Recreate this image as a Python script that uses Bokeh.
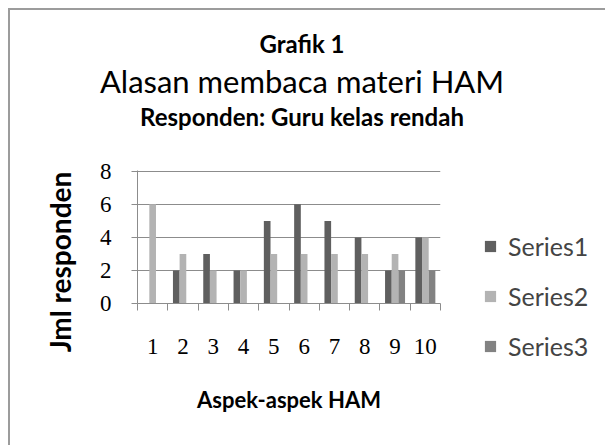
from bokeh.plotting import figure
from bokeh.layouts import column, row
from bokeh.models import (Range1d, LinearAxis, FixedTicker, Legend, LegendItem,
                          ColumnDataSource, Div)
from bokeh.transform import dodge
from bokeh.embed import file_html
from bokeh.resources import INLINE

# ---- data ----
categories = ["1", "2", "3", "4", "5", "6", "7", "8", "9", "10"]
series1 = [0, 2, 3, 2, 5, 6, 5, 4, 2, 4]
series2 = [6, 3, 2, 2, 3, 3, 3, 3, 3, 4]
series3 = [0, 0, 0, 0, 0, 0, 0, 0, 2, 2]
series_names = ["Series1", "Series2", "Series3"]
y_ticks = [0, 2, 4, 6, 8]
title_lines = ["Grafik 1", "Alasan membaca materi HAM", "Responden: Guru kelas rendah"]
x_title = "Aspek-aspek HAM"
y_title = "Jml responden"

colors = ["#5f5f5f", "#b3b3b3", "#828282"]
SANS = "Lato"
SERIF = "Liberation Serif"

# ---- layout (page px) ----
X0, Y0 = 10, 10            # content origin on the page (8 margin + 2 border)
DIV_H = 150
YW = 70                    # width of the y-title column
FL, FR, FT, FB = 137, 440, 170, 302
FW, FH = FR - FL, FB - FT + 1

n = len(categories)
pos = list(range(1, n + 1))

# ---- title block ----
title_specs = [(title_lines[0], 45, 24, "bold"),
               (title_lines[1], 82, 31, "normal"),
               (title_lines[2], 118, 24, "bold")]
inner = ""
for text, cy, size, weight in title_specs:
    top = cy - Y0 - size / 2 - 1
    inner += (f'<div style="position:absolute;left:0;width:{2 * (302 - X0)}px;top:{top}px;'
              f'height:{size}px;line-height:{size}px;text-align:center;font-family:{SANS};'
              f'font-size:{size}px;font-weight:{weight};color:#000;white-space:nowrap">{text}</div>')
title_div = Div(text=f'<div style="position:relative;width:585px;height:{DIV_H}px">{inner}</div>',
                width=585, height=DIV_H, margin=0)

# ---- y title (rotated) ----
YH = 445 - (Y0 + DIV_H)
ycx, ycy = 60 - X0, 262 - (Y0 + DIV_H)
y_div = Div(text=(f'<div style="position:relative;width:{YW}px;height:{YH}px">'
                  f'<div style="position:absolute;left:{ycx}px;top:{ycy}px;'
                  f'transform:translate(-50%,-50%) rotate(-90deg);white-space:nowrap;'
                  f'font-family:{SANS};font-size:28px;font-weight:bold;color:#000;'
                  f'line-height:28px">{y_title}</div></div>'),
            width=YW, height=YH, margin=0)

# ---- chart ----
p = figure(x_range=Range1d(0.5, n + 0.5), y_range=Range1d(0, max(y_ticks) + 0.05),
           frame_width=FW, frame_height=FH, output_backend="svg", toolbar_location=None,
           x_axis_location=None, min_border_left=FL - X0 - YW, min_border_right=150,
           min_border_top=FT - (Y0 + DIV_H), min_border_bottom=130, margin=0)
p.outline_line_color = None
p.background_fill_color = "white"
p.border_fill_color = "white"

p.xgrid.visible = False
p.ygrid.ticker = FixedTicker(ticks=y_ticks)
p.ygrid.grid_line_color = "#8c8c8c"
p.ygrid.grid_line_width = 1

ya = p.yaxis[0]
ya.ticker = FixedTicker(ticks=y_ticks)
ya.axis_line_color = "#8c8c8c"
ya.major_tick_line_color = "#8c8c8c"
ya.major_tick_out = 6
ya.major_tick_in = 0
ya.minor_tick_line_color = None
ya.major_label_text_font = SERIF
ya.major_label_text_font_size = "23px"
ya.major_label_text_color = "black"
ya.major_label_standoff = 20

tick_axis = LinearAxis(ticker=FixedTicker(ticks=[x - 0.5 for x in pos] + [n + 0.5]),
                       major_label_text_font_size="1px", major_label_text_alpha=0,
                       major_label_standoff=0, major_tick_out=7, major_tick_in=0,
                       minor_tick_line_color=None, axis_line_color="#8c8c8c",
                       major_tick_line_color="#8c8c8c")
label_axis = LinearAxis(ticker=FixedTicker(ticks=pos),
                        major_label_overrides={x: c for x, c in zip(pos, categories)},
                        axis_line_color=None, major_tick_line_color=None,
                        minor_tick_line_color=None, major_label_standoff=22,
                        major_label_text_font=SERIF, major_label_text_font_size="23px",
                        major_label_text_color="black",
                        axis_label=x_title, axis_label_standoff=29,
                        axis_label_text_font=SANS, axis_label_text_font_size="22px",
                        axis_label_text_font_style="bold", axis_label_text_color="black")
p.add_layout(tick_axis, "below")
p.add_layout(label_axis, "below")

bw = 0.22
source = ColumnDataSource(dict(x=pos, s1=series1, s2=series2, s3=series3))
renderers = []
for i, key in enumerate(["s1", "s2", "s3"]):
    r = p.vbar(x=dodge("x", (i - 1) * bw), top=key, width=bw,
               source=source, fill_color=colors[i], line_color=None)
    renderers.append(r)

legend = Legend(items=[LegendItem(label=s, renderers=[r]) for s, r in zip(series_names, renderers)],
                location=(483 - FR, -58), padding=0, margin=0,
                border_line_color=None, background_fill_alpha=0,
                glyph_width=14, glyph_height=14, label_standoff=11,
                label_text_font=SANS, label_text_font_size="25px", label_height=20,
                spacing=20)
p.add_layout(legend, "right")

page = column(title_div, row(y_div, p, spacing=0, margin=0), spacing=0, margin=0,
              styles={"margin-left": "8px", "margin-top": "8px",
                      "border-left": "2px solid #9c9c9c", "border-top": "2px solid #9c9c9c"})

open("out.html", "w").write(file_html(page, INLINE))
